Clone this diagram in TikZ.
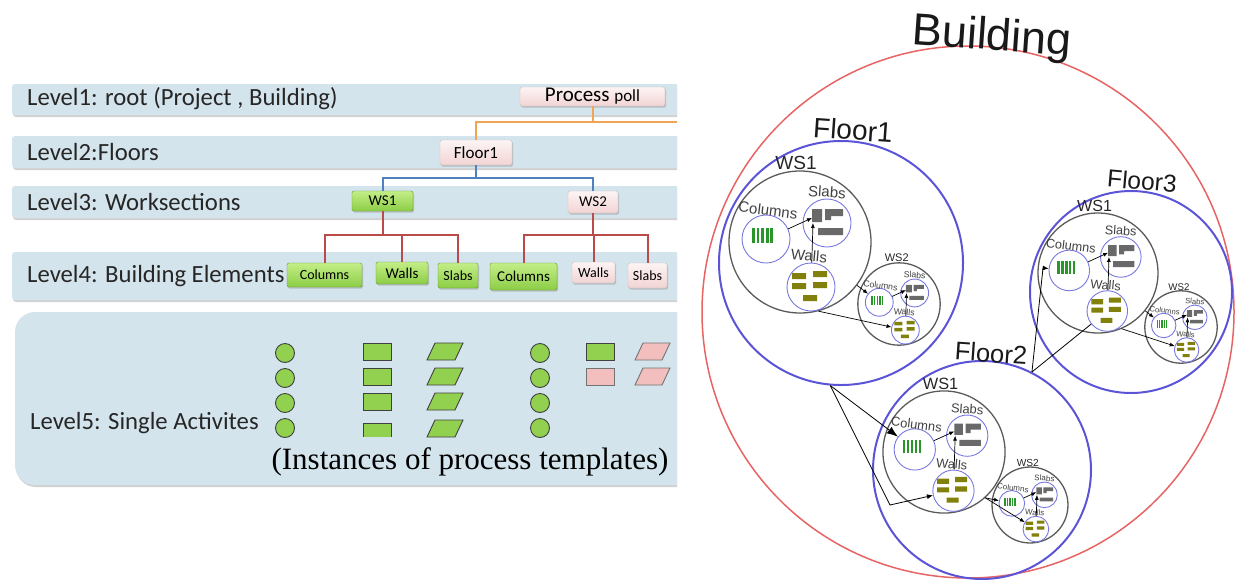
\documentclass[tikz,border=0pt]{standalone}
\usepackage{fontspec}
\usetikzlibrary{arrows.meta,shadows}
\newfontfamily\calfont{Carlito}
\newfontfamily\arialfont{Liberation Sans}
\newfontfamily\timesfont{Liberation Serif}
\definecolor{bandblue}{RGB}{212,228,236}
\definecolor{boxgreen}{RGB}{140,205,70}
\definecolor{boxgreenlt}{RGB}{195,238,135}
\definecolor{boxgreendk}{RGB}{95,155,45}
\definecolor{boxpink}{RGB}{242,212,212}
\definecolor{boxpinklt}{RGB}{253,244,244}
\definecolor{actgreen}{RGB}{146,208,80}
\definecolor{actpink}{RGB}{242,190,190}
\definecolor{lineorange}{RGB}{240,165,85}
\definecolor{lineblue}{RGB}{79,129,189}
\definecolor{linered}{RGB}{185,75,72}
\definecolor{bldred}{RGB}{232,100,100}
\definecolor{flblue}{RGB}{92,84,214}
\definecolor{elblue}{RGB}{120,120,225}
\definecolor{wsgray}{RGB}{90,90,90}
\definecolor{bargreen}{RGB}{40,150,40}
\definecolor{slabgray}{RGB}{105,105,105}
\definecolor{wallolive}{RGB}{128,128,10}

\tikzset{
  wscircle/.style={circle,draw=wsgray,line width=1.3pt,minimum size=142pt,inner sep=0,transform shape},
  elemcircle/.style={circle,draw=elblue,line width=.9pt,minimum size=48pt,inner sep=0,transform shape},
  wslabel/.style={font=\arialfont\fontsize{19}{19}\selectfont,text=black!85,inner sep=0,transform shape},
  elemlabel/.style={font=\arialfont\fontsize{15}{15}\selectfont,text=black!75,inner sep=0,transform shape},
  elemarrow/.style={-{Latex[length=5pt,width=4pt]},line width=.7pt},
  wsgroup/.pic={
    \node[wscircle] (-ws) at (0,0) {};
    \node[wslabel] (-lbl) at (-4,-79) {#1};
    \node[elemcircle] (-col) at (-34,-3) {};
    \node[elemcircle] (-slb) at (27,-19) {};
    \node[elemcircle] (-wal) at (11,45) {};
    \node[elemlabel,rotate=-7] (-coll) at (-32,-32) {Columns};
    \node[elemlabel,rotate=-4] (-slbl) at (27,-50) {Slabs};
    \node[elemlabel,rotate=-5] (-wall) at (9,14) {Walls};
    % columns
    \foreach \i in {0,...,4}
      \fill[bargreen] ({-48+\i*4.6},-14) rectangle ++(2.8,15);
    % slabs
    \fill[slabgray] (12,-33) rectangle (22,-20) (25,-33) rectangle (43,-26)
      (25,-26) rectangle (31,-22) (18,-14) rectangle (43,-7);
    % walls
    \fill[wallolive] (-8,31) rectangle ++(14,6) (13,29) rectangle ++(14,6)
      (-8,41) rectangle ++(14,6) (13,40) rectangle ++(14,6)
      (3,53) rectangle ++(14,6);
    \coordinate (-sa) at (12,-24);
    \coordinate (-sb) at (13,-19);
    \draw[elemarrow] (-col) -- (-sa);
    \draw[elemarrow] (-wal) -- (-sb);
  }
}

\begin{document}
\begin{tikzpicture}
  [x=1pt,y=-1pt,
   band/.style={fill=bandblue,rounded corners=3pt,drop shadow={shadow xshift=1pt,shadow yshift=-2pt,fill=black!40,opacity=.45}},
   lvtext/.style={anchor=west,font=\calfont\fontsize{24.7}{26}\selectfont,text=black!85,inner sep=0},
   greenbox/.style={draw=boxgreendk,top color=boxgreenlt,bottom color=boxgreen,rounded corners=1.5pt,inner sep=0,
     font=\calfont\fontsize{14}{14}\selectfont,drop shadow={shadow xshift=1pt,shadow yshift=-1.5pt,fill=black!40,opacity=.5}},
   pinkbox/.style={draw=black!25,top color=boxpinklt,bottom color=boxpink,rounded corners=1.5pt,inner sep=0,
     font=\calfont\fontsize{14}{14}\selectfont,drop shadow={shadow xshift=1pt,shadow yshift=-1.5pt,fill=black!40,opacity=.5}},
   orgline/.style={lineorange,line width=2pt},
   bluline/.style={lineblue,line width=2pt},
   redline/.style={linered,line width=2pt},
   actcircle/.style={circle,draw=black!75,fill=actgreen,line width=.9pt,minimum size=19pt,inner sep=0},
   actbox/.style={rectangle,draw=black!75,fill=actgreen,line width=.9pt,minimum width=28pt,minimum height=17pt,inner sep=0},
   actpar/.style={draw=black!75,fill=actgreen,line width=.9pt},
   flcircle/.style={circle,draw=flblue,line width=2pt,inner sep=0},
   fllabel/.style={font=\arialfont\fontsize{#1}{#1}\selectfont,text=black!90,inner sep=0},
   flarrow/.style={-{Latex[length=6pt,width=5pt]},line width=.8pt}]
  \useasboundingbox (0,0) rectangle (1237,579);

  % level bands
  \begin{scope}
    \clip (0,0) rectangle (677,579);
    \foreach \t/\b in {84/115,136/168,186/218,252/300}
      \path[band] (12,\t) rectangle (700,\b);
    \path[band,rounded corners=20pt] (15,312) rectangle (700,485);
  \end{scope}

  \node[lvtext] (lv1) at (27,99) {Level1: root (Project , Building)};
  \node[lvtext] (lv2) at (27,152) {Level2:Floors};
  \node[lvtext] (lv3) at (27,202) {Level3: Worksections};
  \node[lvtext] (lv4) at (27,276) {Level4: Building Elements};
  \node[lvtext] (lv5) at (30,423) {Level5: Single Activites};

  % tree boxes
  \node[pinkbox,minimum width=145pt,minimum height=19pt,font=\calfont\fontsize{21}{21}\selectfont] (pp) at (592.5,96.5)
    {Process {\fontsize{17}{17}\selectfont poll}};
  \node[pinkbox,minimum width=72pt,minimum height=25pt,font=\calfont\fontsize{17}{17}\selectfont] (lfl1) at (476,152.5) {Floor1};
  \node[greenbox,minimum width=61pt,minimum height=20pt,font=\calfont\fontsize{15}{15}\selectfont] (lws1) at (382.5,201) {WS1};
  \node[pinkbox,minimum width=50pt,minimum height=22pt,font=\calfont\fontsize{15}{15}\selectfont] (lws2) at (593,202) {WS2};
  \node[greenbox,minimum width=75pt,minimum height=24pt] (lcol1) at (324.5,275) {Columns};
  \node[greenbox,minimum width=52pt,minimum height=22pt,font=\calfont\fontsize{15}{15}\selectfont] (lwal1) at (402,273) {Walls};
  \node[greenbox,minimum width=40pt,minimum height=25pt] (lslb1) at (458,275.5) {Slabs};
  \node[greenbox,minimum width=67pt,minimum height=27pt,font=\calfont\fontsize{15}{15}\selectfont] (lcol2) at (523.5,276.5) {Columns};
  \node[pinkbox,minimum width=43pt,minimum height=21pt] (lwal2) at (593.5,272.5) {Walls};
  \node[pinkbox,minimum width=39pt,minimum height=25pt] (lslb2) at (647.5,275.5) {Slabs};

  \coordinate (j1) at (592.5,122);
  \coordinate (oe) at (677,122);
  \coordinate (j2) at (476,178);
  \coordinate (j3) at (382.5,235);
  \coordinate (j4) at (593,235);

  \draw[orgline] (pp.south) -- (j1);
  \draw[orgline] (lfl1.north) |- (oe);
  \draw[bluline] (lfl1.south) -- (j2);
  \draw[bluline] (lws1.north) |- (j2) -| (lws2.north);
  \draw[redline] (lws1.south) -- (j3);
  \draw[redline] (lcol1.north) |- (j3) -| (lslb1.north);
  \draw[redline] (lwal1.north) -- (lwal1.north |- j3);
  \draw[redline] (lws2.south) -- (j4);
  \draw[redline] (lcol2.north) |- (j4) -| (lslb2.north);
  \draw[redline] (lwal2.north) -- (lwal2.north |- j4);

  % single activities
  \foreach \y [count=\k] in {353,378,403,428} {
    \node[actcircle] (ca\k) at (285,\y) {};
    \node[actcircle] (cb\k) at (540,\y) {};
  }
  \foreach \y [count=\k] in {343,368,393}
    \node[actbox] (ra\k) at (377,\y+8.5) {};
  \fill[actgreen] (363,423) rectangle (391,437);
  \draw[black!75,line width=.9pt] (363,437) |- (391,423) -- (391,437);
  \foreach \y in {343,368,393,420}
    \draw[actpar] (427,\y+17) -- (435,\y) -- (463,\y) -- (455,\y+17) -- cycle;
  \node[actbox] (rb1) at (600.5,351.5) {};
  \node[actbox,fill=actpink,draw=black!55] (rb2) at (600.5,376.5) {};
  \foreach \y in {343,368}
    \draw[actpar,fill=actpink,draw=black!55] (635,\y+17) -- (643,\y) -- (670,\y) -- (662,\y+17) -- cycle;

  \node[font=\timesfont\fontsize{31}{31}\selectfont,inner sep=0] (inst) at (470,462) {(Instances of process templates)};

  % building and floors
  \node[circle,draw=bldred,line width=1.5pt,minimum size=532pt,inner sep=0] (bld) at (968,312) {};
  \node[flcircle,minimum size=244pt] (fl1) at (841,263) {};
  \node[flcircle,minimum size=218pt] (fl2) at (982,470) {};
  \node[flcircle,minimum size=202pt] (fl3) at (1131,292) {};

  \node[fllabel=45,anchor=base,rotate=-4] (bldl) at (991,50) {Building};
  \node[fllabel=28,rotate=-4] (fl1l) at (853,130) {Floor1};
  \node[fllabel=25.5,rotate=-4] (fl2l) at (991,353) {Floor2};
  \node[fllabel=24.5,rotate=-5] (fl3l) at (1142,181) {Floor3};

  % worksections
  \pic (f1a) at (800,242) {wsgroup=WS1};
  \pic[scale=.58] (f1b) at (899,304) {wsgroup=WS2};
  \pic[scale=.86] (f2a) at (944,452) {wsgroup=WS1};
  \pic[scale=.535] (f2b) at (1030,505) {wsgroup=WS2};
  \pic[scale=.845] (f3a) at (1098,273) {wsgroup=WS1};
  \pic[scale=.51] (f3b) at (1181,327) {wsgroup=WS2};

  \draw[elemarrow] (f1a-ws) -- (f1b-col);
  \draw[elemarrow] (f1a-ws.-75) -- (f1b-wal);
  \draw[elemarrow] (f2a-ws.-48) -- (f2b-col);
  \draw[elemarrow] (f2a-ws.-48) -- (f2b-wal);
  \draw[elemarrow] (f3a-ws) -- (f3b-col);
  \draw[elemarrow] (f3a-ws.-67) -- (f3b-wal);

  % between floors
  \coordinate (b12) at (890,505);
  \coordinate (b23) at (1043,268);
  \draw[flarrow,-{Latex[length=11pt,width=8pt]}] (fl1.-95) -- (f2a-col);
  \draw[flarrow] (fl1.-95) -- (b12) -- (f2a-wal);
  \draw[flarrow] (fl2.63) -- (b23) -- (f3a-col);
  \draw[line width=.8pt] (fl2.63) -- (f3a-wal);
\end{tikzpicture}
\end{document}
